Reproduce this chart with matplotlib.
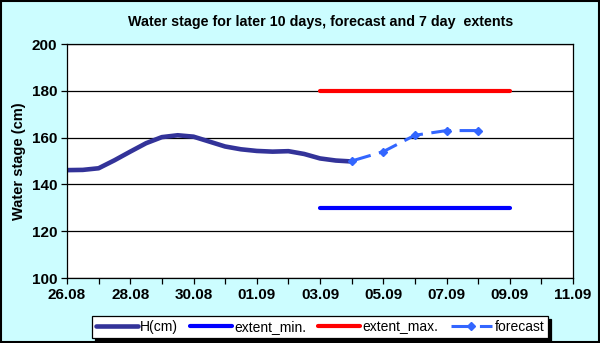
import numpy as np
import pandas as pd
import matplotlib
matplotlib.use("Agg")
import matplotlib.pyplot as plt
import matplotlib.dates as mdates
from matplotlib.patches import Rectangle

plt.rcParams['font.family'] = ['Liberation Sans', 'DejaVu Sans']

# 数据
start = pd.Timestamp("2000-08-26")
h_days = np.arange(0, 9.01, 0.5)
h_vals = [146.1, 146.2, 146.9, 150.3, 154.0, 157.6, 160.2, 161.0, 160.4, 158.3,
          156.2, 155.0, 154.3, 154.0, 154.2, 153.0, 151.1, 150.2, 149.8]
fc_days = [9, 10, 11, 12, 13]
fc_vals = [150, 154, 161, 163, 163]
ext_days = [8, 14]
ext_min = [130, 130]
ext_max = [180, 180]

h_dates = [start + pd.Timedelta(days=d) for d in h_days]
fc_dates = [start + pd.Timedelta(days=d) for d in fc_days]
ext_dates = [start + pd.Timedelta(days=d) for d in ext_days]

fig = plt.figure(figsize=(6, 3.43), dpi=100, facecolor='#ccfdff')
ax = fig.add_axes([67 / 600, 1 - 278 / 343, (573 - 67) / 600, (278 - 44) / 343])
ax.set_facecolor('white')

l1, = ax.plot(h_dates, h_vals, color='#333399', lw=3.3, solid_capstyle='round',
              solid_joinstyle='round', label='H(cm)')
l2, = ax.plot(ext_dates, ext_min, color='#0000ff', lw=3, solid_capstyle='round',
              label='extent_min.')
l3, = ax.plot(ext_dates, ext_max, color='#ff0000', lw=3, solid_capstyle='round',
              label='extent_max.')
l4, = ax.plot(fc_dates, fc_vals, color='#3366ff', lw=2.2, dashes=(6.5, 2.8),
              marker='D', markersize=4, label='forecast')

ax.set_ylim(100, 200)
ax.set_yticks(np.arange(100, 201, 20))
ax.set_xlim(start, start + pd.Timedelta(days=16))
ax.xaxis.set_major_locator(mdates.DayLocator(bymonthday=[1, 3, 5, 7, 9, 11, 26, 28, 30]))
ax.xaxis.set_minor_locator(mdates.DayLocator())
ax.xaxis.set_major_formatter(mdates.DateFormatter('%d.%m'))
ax.grid(axis='y', color='black', lw=0.9)
ax.tick_params(which='both', direction='out', length=4, width=0.9, colors='black')
ax.tick_params(axis='both', labelsize=11, pad=3)
for lab in ax.get_xticklabels() + ax.get_yticklabels():
    lab.set_fontweight('bold')
for s in ax.spines.values():
    s.set_linewidth(0.9)

ax.set_ylabel('Water stage (cm)', fontsize=10.5, fontweight='bold', labelpad=4)
fig.text(0.534, 1 - 22 / 343, 'Water stage for later 10 days, forecast and 7 day  extents',
         ha='center', va='center', fontsize=10.3, fontweight='bold')

leg = fig.legend(handles=[l1, l2, l3, l4], loc='center', ncol=4,
                 bbox_to_anchor=(320 / 600, 1 - 327 / 343), fontsize=10,
                 frameon=True, fancybox=False, edgecolor='black',
                 handlelength=3.0, handletextpad=0.15, columnspacing=0.9,
                 borderpad=0.3, shadow={'color': 'black', 'alpha': 1})
leg.get_frame().set_linewidth(0.9)

fig.patches.append(Rectangle((0.002, 0.003), 0.996, 0.994, transform=fig.transFigure,
                             fill=False, edgecolor='black', lw=1.5))

fig.savefig('out.png', dpi=100, facecolor=fig.get_facecolor())
